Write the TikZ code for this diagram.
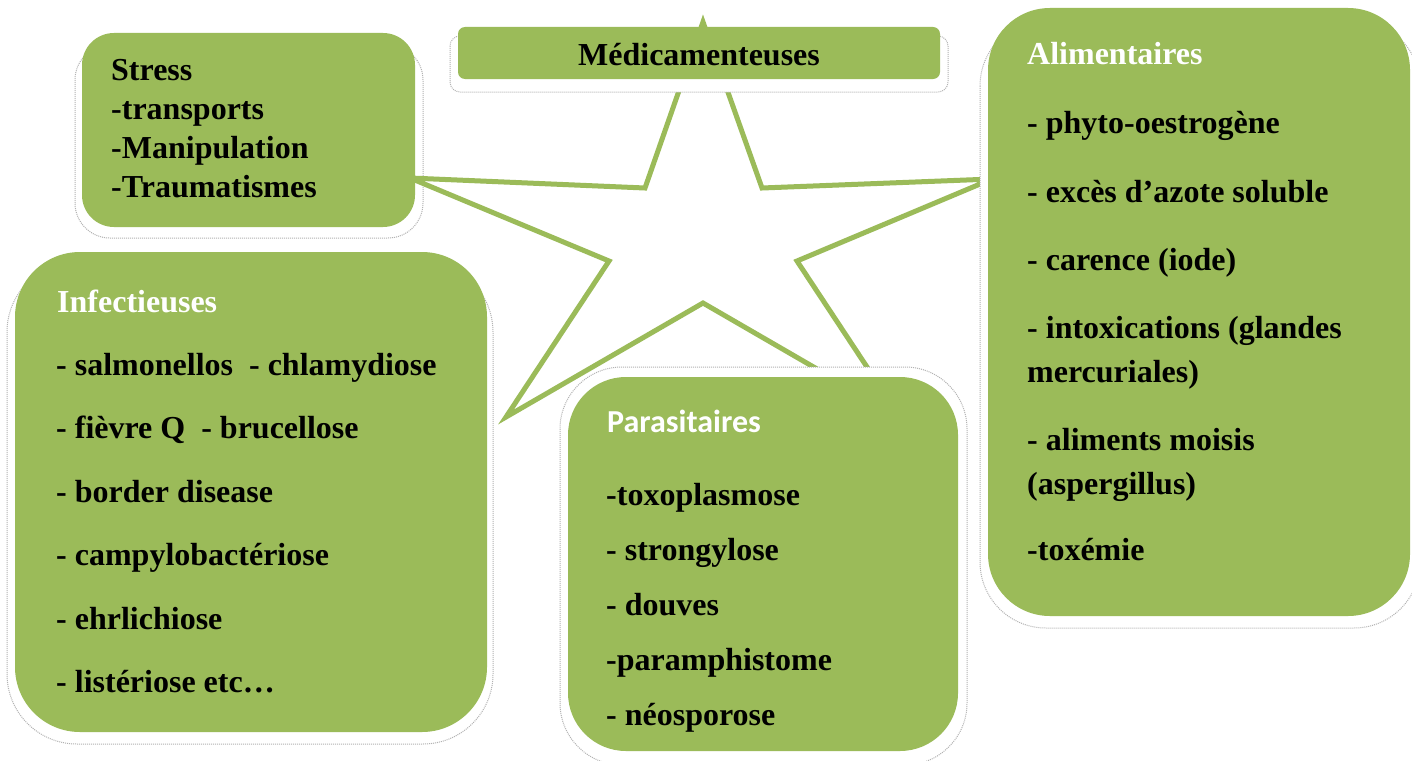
\documentclass[tikz,border=0pt]{standalone}
\usepackage{fontspec}
\setmainfont{Liberation Serif}
\newfontfamily\calibri{Carlito}
\definecolor{leaf}{HTML}{9BBB59}

\begin{document}
\begin{tikzpicture}[x=1pt, y=-1pt,
    panel/.style={rectangle, fill=leaf, rounded corners=#1, inner sep=0pt,
                  outer sep=0pt, anchor=north west},
    halo/.style={draw=gray!60, fill=white, densely dotted, line width=1pt, rounded corners=#1},
    entry/.style={anchor=base west, inner sep=0pt,
                  font=\bfseries\fontsize{32}{38}\selectfont},
    heading/.style={entry, text=white},
    starline/.style={draw=leaf, fill=white, line width=5pt, line join=miter}
]
\path[use as bounding box, fill=white] (0,0) rectangle (1412,760);

% boxes under the star
\draw[halo=35pt] (75,45) rectangle (423,238);
\node[panel=32pt, minimum width=333pt, minimum height=194pt] (stress) at (82,33) {};
\draw[halo=70pt] (7,262) rectangle (493,744);
\node[panel=65pt, minimum width=472pt, minimum height=480pt] (infect) at (15,252) {};

% the star in the middle
\draw[starline] (703,22) -- (762,188) -- (992,179) -- (797,261) -- (900,417)
    -- (703,303) -- (506,417) -- (609,261) -- (410,178) -- (645,188) -- cycle;

% boxes over the star
\draw[halo=10pt] (450,36) rectangle (948,92);
\node[panel=7pt, minimum width=482pt, minimum height=52pt] (medic) at (458,27) {};
\draw[halo=62pt] (560,367) rectangle (967,765);
\node[panel=58pt, minimum width=390pt, minimum height=374pt] (parasit) at (568,377) {};
\draw[halo=66pt] (980,20) rectangle (1420,628);
\node[panel=62pt, minimum width=422pt, minimum height=608pt] (aliment) at (988,8) {};

% texts
\foreach \txt [count=\i from 0] in {Stress, -transports, -Manipulation, -Traumatismes}
    \node[entry] (str\i) at (111,80+39*\i) {\txt};

\node[entry, anchor=base] (medtitle) at (699,65) {Médicamenteuses};

\node[heading] (inftitle) at (57,312) {Infectieuses};
\foreach \txt [count=\i from 0] in {- salmonellos\ \ - chlamydiose, - fièvre Q\ \ - brucellose,
        - border disease, - campylobactériose, - ehrlichiose, - listériose etc…}
    \node[entry] (inf\i) at (56,375+63.5*\i) {\txt};

\node[heading, font=\calibri\bfseries\fontsize{32}{38}\selectfont] (partitle) at (607,432) {Parasitaires};
\foreach \txt [count=\i from 0] in {-toxoplasmose, - strongylose, - douves, -paramphistome, - néosporose}
    \node[entry] (par\i) at (606,505+55*\i) {\txt};

\node[heading] (alititle) at (1027,64) {Alimentaires};
\foreach \txt/\yy [count=\i] in {- phyto-oestrogène/133, - excès d’azote soluble/202,
        - carence (iode)/270, - intoxications (glandes/338, mercuriales)/382,
        - aliments moisis/450, (aspergillus)/494, -toxémie/560}
    \node[entry] (ali\i) at (1027,\yy) {\txt};
\end{tikzpicture}
\end{document}
